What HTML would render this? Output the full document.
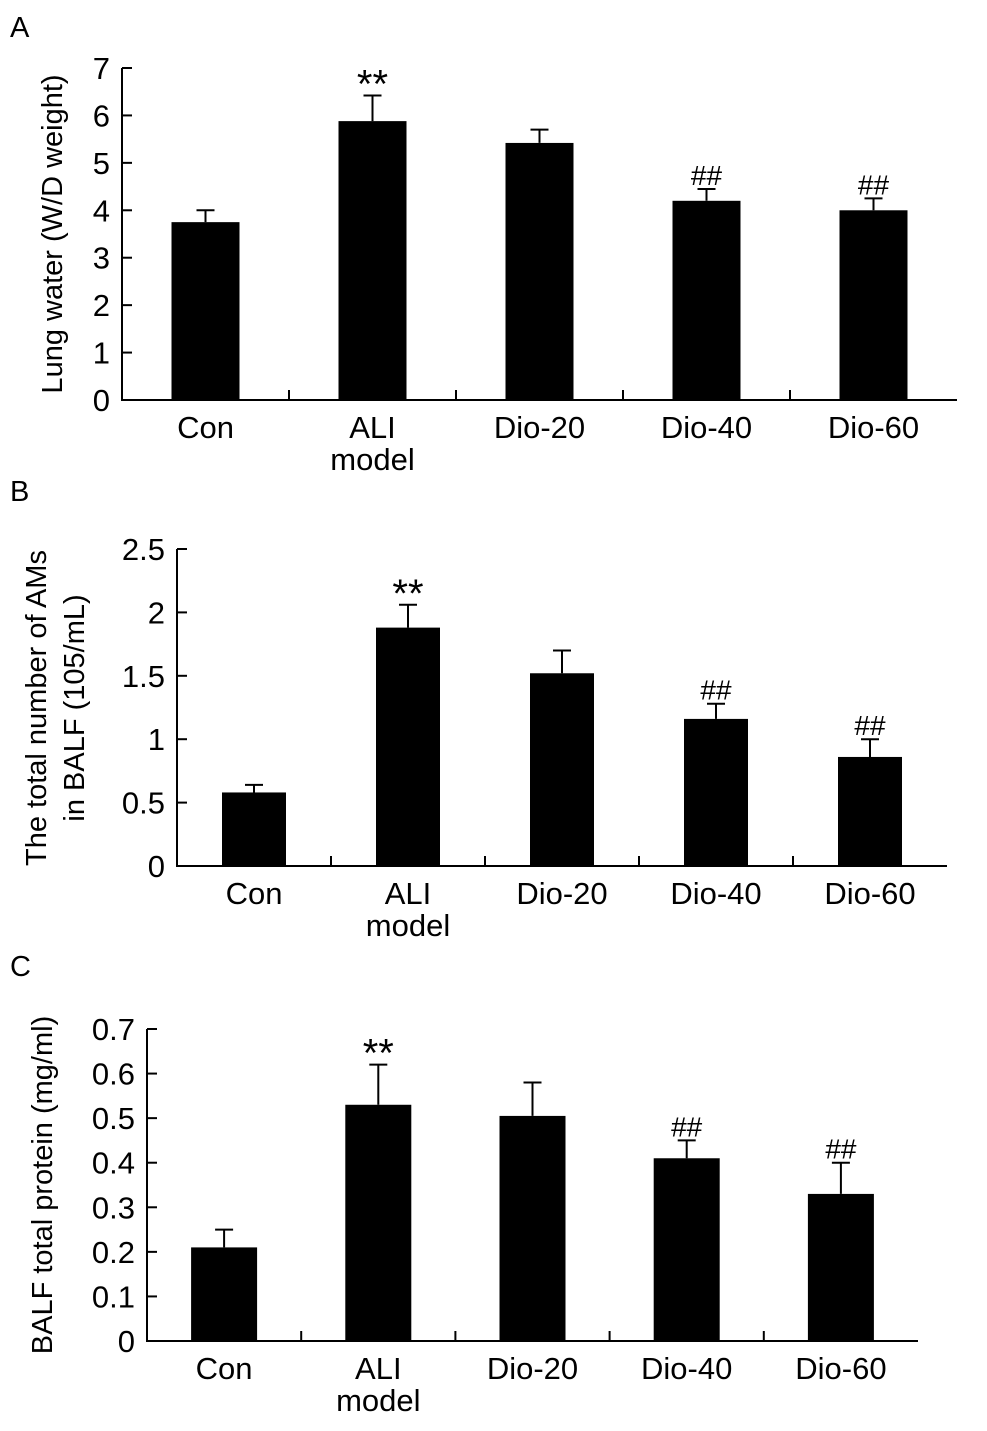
<!DOCTYPE html>
<html><head><meta charset="utf-8"><style>
body{margin:0;background:#fff}
svg{display:block}
text{font-family:"Liberation Sans",Arial,sans-serif;fill:#000}
</style></head><body>
<svg id="fig" width="987" height="1431" viewBox="0 0 987 1431" xmlns="http://www.w3.org/2000/svg"></svg>
<script>
const categories = ["Con","ALI|model","Dio-20","Dio-40","Dio-60"];
const valuesA = [3.75, 5.88, 5.42, 4.2, 4.0];
const errA = [0.25, 0.54, 0.28, 0.25, 0.25];
const marksA = ["", "**", "", "##", "##"];
const ticksA = [0,1,2,3,4,5,6,7];
const valuesB = [0.58, 1.88, 1.52, 1.16, 0.86];
const errB = [0.06, 0.18, 0.18, 0.12, 0.14];
const marksB = ["", "**", "", "##", "##"];
const ticksB = [0,0.5,1,1.5,2,2.5];
const valuesC = [0.21, 0.53, 0.505, 0.41, 0.33];
const errC = [0.04, 0.09, 0.075, 0.04, 0.07];
const marksC = ["", "**", "", "##", "##"];
const ticksC = [0,0.1,0.2,0.3,0.4,0.5,0.6,0.7];

const NS="http://www.w3.org/2000/svg";
const svg=document.getElementById('fig');
function mk(tag,attrs,parent){const e=document.createElementNS(NS,tag);for(const k in attrs)e.setAttribute(k,attrs[k]);(parent||svg).appendChild(e);return e;}

function panel(p){
  const g=mk('g',{});
  
  
  const ymax=p.ticks[p.ticks.length-1];
  const y=v=>p.y0-(v/ymax)*(p.y0-p.yTop);
  const cw=(p.x1-p.x0)/categories.length;
  const cx=i=>p.x0+cw*(i+0.5);
  const lbl=mk('text',{x:p.lx,y:p.ly,'font-size':29},g);lbl.textContent=p.id;
  
  
  p.values.forEach((v,i)=>{
    const top=y(v+p.err[i]);
    const eb=mk('path',{d:`M${cx(i)} ${y(v)}V${top}M${cx(i)-9} ${top}H${cx(i)+9}`,stroke:'#000','stroke-width':2,fill:'none'},g);
    
    
    const r=mk('rect',{x:cx(i)-p.bw/2,y:y(v),width:p.bw,height:p.y0-y(v),fill:'#000'},g);
    
    
    if(p.marks[i]){
      const star=p.marks[i]==='**';
      const t=mk('text',{x:cx(i),y:star?top+2:top-4,'font-size':star?40:28,'text-anchor':'middle'},g);
      t.textContent=p.marks[i];
      
      
    }
  });
  const ax=mk('path',{d:`M${p.x0} ${p.yTop}V${p.y0}H${p.x1}`,stroke:'#000','stroke-width':2,fill:'none'},g);
  
  
  p.ticks.forEach(t=>{
    mk('line',{x1:p.x0,x2:p.x0+10,y1:y(t),y2:y(t),stroke:'#000','stroke-width':2},g);
    const tl=mk('text',{x:p.x0-12,y:y(t)+11,'font-size':31,'text-anchor':'end'},g);
    tl.textContent=String(t);
    
    
  });
  for(let i=1;i<categories.length;i++){
    mk('line',{x1:p.x0+cw*i,x2:p.x0+cw*i,y1:p.y0,y2:p.y0-10,stroke:'#000','stroke-width':2},g);
  }
  categories.forEach((c,i)=>{
    c.split('|').forEach((s,j)=>{
      const t=mk('text',{x:cx(i),y:p.y0+38+j*32,'font-size':31,'text-anchor':'middle'},g);
      t.textContent=s;
      
      
    });
  });
  p.title.forEach((s,j)=>{
    const tx=p.tx+j*38;
    const t=mk('text',{x:tx,y:p.ty,'font-size':29,'text-anchor':'middle',transform:`rotate(-90 ${tx} ${p.ty})`},g);
    t.textContent=s;
    
    
  });
}
panel({id:'A',values:valuesA,err:errA,marks:marksA,ticks:ticksA,x0:122,x1:957,y0:400,yTop:68,bw:68,lx:10,ly:37,title:['Lung water (W/D weight)'],tx:62,ty:234});
panel({id:'B',values:valuesB,err:errB,marks:marksB,ticks:ticksB,x0:177,x1:947,y0:866,yTop:549,bw:64,lx:10,ly:501,title:['The total number of AMs','in BALF (105/mL)'],tx:46,ty:708});
panel({id:'C',values:valuesC,err:errC,marks:marksC,ticks:ticksC,x0:147,x1:918,y0:1341,yTop:1029,bw:66,lx:10,ly:976,title:['BALF total protein (mg/ml)'],tx:52,ty:1185});
</script>
</body></html>
